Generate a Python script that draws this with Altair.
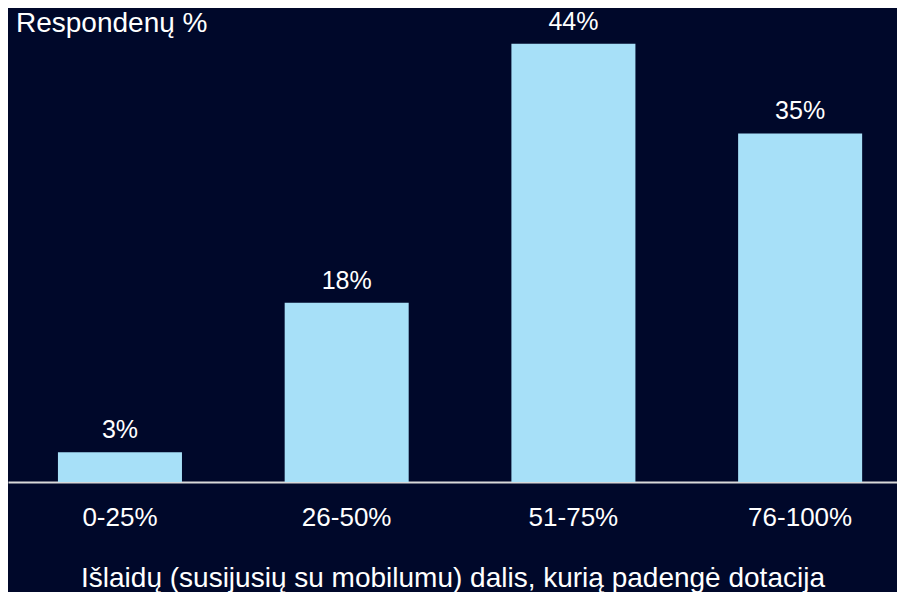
import altair as alt
import pandas as pd

categories = ["0-25%", "26-50%", "51-75%", "76-100%"]
values = [3, 18, 44, 35]
value_labels = ["3%", "18%", "44%", "35%"]
y_title = "Respondenų %"
x_title = "Išlaidų (susijusių su mobilumu) dalis, kurią padengė dotacija"

df = pd.DataFrame({"cat": categories, "val": values, "lab": value_labels})

BG = "#00082a"
BAR = "#a7e0f8"
FONT = "Liberation Sans"

x_enc = alt.X(
    "cat:N",
    sort=categories,
    scale=alt.Scale(paddingInner=0.453, paddingOuter=0.187, align=0.589),
    axis=alt.Axis(
        title=x_title,
        labelAngle=0,
        labelFontSize=26,
        labelFont=FONT,
        labelColor="#ffffff",
        labelPadding=22,
        ticks=False,
        domainColor="#d9d9d9",
        domainWidth=2,
        grid=False,
        titleFontSize=28,
        titleFont=FONT,
        titleFontWeight="normal",
        titleColor="#ffffff",
        titlePadding=34,
    ),
)
y_enc = alt.Y("val:Q", scale=alt.Scale(domain=[0, 47.2]), axis=None)

bars = alt.Chart(df).mark_bar(color=BAR).encode(x=x_enc, y=y_enc)
labels = alt.Chart(df).mark_text(
    font=FONT, fontSize=25, color="#ffffff", baseline="alphabetic", dy=-14
).encode(x=x_enc, y=y_enc, text="lab:N")
title = alt.Chart(pd.DataFrame({"t": [y_title]})).mark_text(
    font=FONT, fontSize=28, color="#ffffff", align="left", baseline="middle"
).encode(x=alt.value(8), y=alt.value(12), text="t:N")

chart = (
    alt.layer(bars, labels, title)
    .properties(
        width=889,
        height=470,
        autosize=alt.AutoSizeParams(type="none"),
        padding={"left": 0, "top": 4, "right": 0, "bottom": 110},
        background=BG,
    )
    .configure_view(stroke=None)
)

chart.save("out.html", embed_options={"renderer": "svg", "actions": False})
